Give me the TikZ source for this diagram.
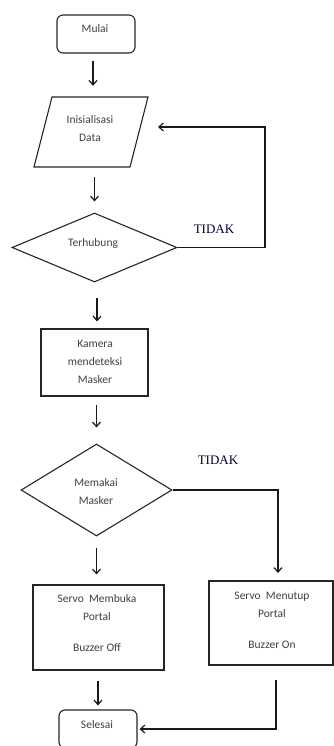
\documentclass[tikz,border=0pt]{standalone}
\usepackage{fontspec}
\setmainfont{Carlito}
\newfontfamily\tidakfont{Liberation Serif}
\usetikzlibrary{shapes.geometric,arrows.meta,calc}
\tikzset{
  shapeline/.style={draw=black!85, line width=1.1pt},
  termbox/.style={shapeline, rectangle, rounded corners=6pt, minimum width=78pt, minimum height=38pt, inner sep=0pt},
  procbox/.style={shapeline, rectangle, inner sep=0pt},
  iobox/.style={rectangle, minimum width=96pt, minimum height=70pt, inner sep=0pt},
  decbox/.style={shapeline, diamond, inner sep=0pt, aspect=2},
  lbl/.style={font=\fontsize{11.5}{18}\selectfont, text=black!75, align=center, inner sep=0pt},
  nolbl/.style={font=\tidakfont\fontsize{13}{15}\selectfont, text=black!80!blue, inner sep=0pt},
  arr/.style={draw=black!90, line width=1.2pt, -{Straight Barb[length=4.5pt,width=8pt,line width=1.2pt]}}
}
\begin{document}
\begin{tikzpicture}[x=1pt,y=-1pt]
\useasboundingbox[fill=white] (0,0) rectangle (334,746);
% shapes
\node[termbox] (mulai) at (96,34) {};
\node[lbl] (tmulai) at (95,29) {Mulai};
\node[iobox] (init) at (91,132) {};
\draw[shapeline] (init.center) ++(-39,-35) -- ++(96,0) -- ++(-18,70) -- ++(-96,0) -- cycle;
\node[lbl] (tinit) at (90,128.5) {Inisialisasi\\Data};
\node[decbox, minimum width=165pt, minimum height=69pt] (terhub) at (94.5,247.5) {};
\node[lbl] (tterhub) at (93,243) {Terhubung};
\node[procbox, minimum width=107pt, minimum height=67pt] (kamera) at (94.5,362.5) {};
\node[lbl] (tkamera) at (95,362) {Kamera\\mendeteksi\\Masker};
\node[decbox, minimum width=151pt, minimum height=92pt] (memakai) at (96.5,490) {};
\node[lbl] (tmemakai) at (96,491.5) {Memakai\\Masker};
\node[procbox, minimum width=131pt, minimum height=85pt] (membuka) at (98.5,627.5) {};
\node[lbl] (tmembuka) at (97,623) {Servo\ \ Membuka\\Portal\\[13pt]Buzzer Off};
\node[procbox, minimum width=124pt, minimum height=84pt] (menutup) at (271,623) {};
\node[lbl] (tmenutup) at (272,620.5) {Servo\ \ Menutup\\Portal\\[13pt]Buzzer On};
\node[termbox] (selesai) at (98,729) {};
\node[lbl] (tselesai) at (97,725) {Selesai};
\node[nolbl] (tidak1) at (214,229) {TIDAK};
\node[nolbl] (tidak2) at (218,460) {TIDAK};
% arrow columns
\coordinate (col1) at (93,0);
\coordinate (col3) at (97,0);
% connectors
\draw[arr, shorten <=7pt, shorten >=11pt] (mulai.south -| col1) -- (init.north -| col1);
\draw[arr, shorten <=10pt, shorten >=11pt] (init.south -| terhub.north) -- (terhub.north);
\draw[arr, shorten <=15pt, shorten >=7pt] (terhub.south -| col3) -- (kamera.north -| col3);
\draw[arr, shorten <=8pt, shorten >=16pt] (kamera.south -| memakai.north) -- (memakai.north);
\draw[arr, shorten <=11pt, shorten >=10pt] (memakai.south) -- (membuka.north -| memakai.south);
\draw[arr, shorten <=10pt, shorten >=4pt] (membuka.south -| selesai.north) -- (selesai.north);
\coordinate (loopcorner) at (265,127);
\coordinate (loopend) at (158,127);
\draw[arr] (terhub.east) -| (loopcorner) -- (loopend);
\coordinate (tidakend) at (278,573);
\draw[arr] (memakai.east) -| (tidakend);
\coordinate (retstart) at (276,680);
\draw[arr, shorten >=2pt] (retstart) |- (selesai.east);
\end{tikzpicture}
\end{document}
